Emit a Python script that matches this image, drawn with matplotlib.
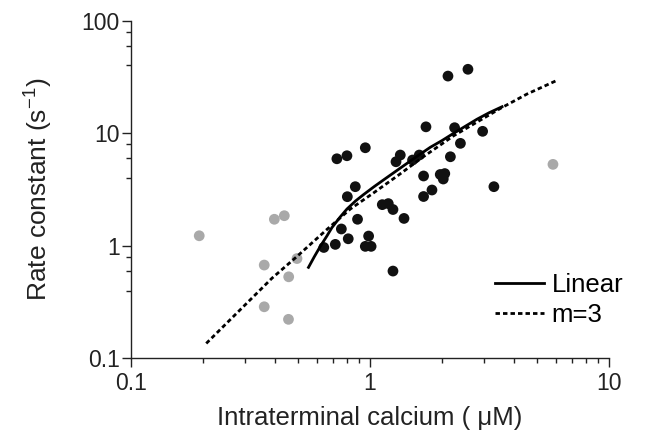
import matplotlib
matplotlib.use("Agg")
import matplotlib.pyplot as plt
from matplotlib.ticker import FixedLocator, LogLocator, NullFormatter

plt.rcParams["font.family"] = ["Liberation Sans", "DejaVu Sans"]

# black points: intraterminal calcium (uM), rate constant (1/s)
ca_black = [2.12, 2.57, 1.715, 2.26, 2.96, 2.39, 0.727, 0.801, 0.956, 1.339,
            1.285, 1.507, 1.608, 2.17, 1.676, 1.968, 2.056, 2.026, 1.817, 1.676,
            3.30, 0.868, 0.804, 1.126, 1.193, 1.248, 1.388, 0.887, 0.759, 0.811,
            0.716, 0.987, 0.956, 1.011, 0.641, 1.248]
k_black = [32.2, 37.0, 11.4, 11.2, 10.4, 8.13, 5.93, 6.31, 7.43, 6.40,
           5.58, 5.78, 6.40, 6.18, 4.17, 4.30, 4.38, 3.92, 3.13, 2.74,
           3.35, 3.35, 2.73, 2.32, 2.37, 2.10, 1.75, 1.72, 1.41, 1.154,
           1.029, 1.22, 0.988, 0.988, 0.966, 0.596]

# grey points
ca_grey = [0.193, 0.398, 0.438, 0.361, 0.457, 0.495, 0.361, 0.456, 5.83]
k_grey = [1.227, 1.72, 1.85, 0.674, 0.530, 0.770, 0.287, 0.222, 5.29]

# fitted curves
ca_linear = [0.553, 0.585, 0.620, 0.660, 0.693, 0.750, 0.801, 0.870, 0.940, 1.040,
             1.140, 1.339, 1.550, 1.788, 2.000, 2.240, 2.500, 2.800, 3.150, 3.570]
k_linear = [0.643, 0.800, 0.990, 1.220, 1.450, 1.800, 2.120, 2.500, 2.850, 3.350,
            3.850, 4.900, 6.100, 7.500, 8.600, 10.00, 11.50, 13.30, 15.20, 17.20]

ca_m3 = [0.2065, 0.389, 0.490, 0.661, 0.827, 1.035, 1.317, 1.676, 2.24, 3.51, 4.54, 6.06]
k_m3 = [0.1356, 0.515, 0.789, 1.399, 2.12, 2.95, 4.25, 6.2, 9.5, 16.6, 22.3, 29.5]

fig = plt.figure(figsize=(6.52, 4.47), dpi=100)
ax = fig.add_axes([0.2009, 0.1984, 0.7331, 0.7553])

ax.scatter(ca_grey, k_grey, s=60, color="#a9a9a9", edgecolors="none", zorder=2)
ax.scatter(ca_black, k_black, s=60, color="#111111", edgecolors="none", zorder=3)
ax.plot(ca_linear, k_linear, color="black", lw=2.0, label="Linear", zorder=4)
ax.plot(ca_m3, k_m3, color="black", lw=2.0, dashes=(1.6, 1.1), label="m=3", zorder=4)

ax.set_xscale("log")
ax.set_yscale("log")
ax.set_xlim(0.1, 10)
ax.set_ylim(0.1, 100)

ax.set_xticks([0.1, 1, 10])
ax.set_xticklabels(["0.1", "1", "10"])
ax.set_yticks([0.1, 1, 10, 100])
ax.set_yticklabels(["0.1", "1", "10", "100"])
ax.xaxis.set_minor_locator(LogLocator(base=10, subs=[2, 3, 4, 5, 6, 7, 8, 9]))
ax.yaxis.set_minor_locator(FixedLocator([0.4, 0.6, 0.8, 4, 6, 8, 40, 60, 80]))
ax.xaxis.set_minor_formatter(NullFormatter())
ax.yaxis.set_minor_formatter(NullFormatter())

for s in ["top", "right"]:
    ax.spines[s].set_visible(False)
for s in ["left", "bottom"]:
    ax.spines[s].set_linewidth(1.0)
    ax.spines[s].set_color("#222222")

ax.tick_params(which="major", length=6.5, width=1.0, colors="#222222", labelsize=16.5, labelcolor="#222222")
ax.tick_params(axis="y", which="major", pad=1.5)
ax.tick_params(axis="x", which="major", pad=3.5)
ax.tick_params(which="minor", length=3.6, width=1.0, colors="#222222")

ax.set_xlabel("Intraterminal calcium ( \u03bcM)", fontsize=18.5, color="#222222", labelpad=8)
ax.set_ylabel("Rate constant (s$^{\\mathregular{-1}}$)", fontsize=19, color="#222222", labelpad=20)

ax.legend(loc="upper left", bbox_to_anchor=(0.7615, 0.252), frameon=False, fontsize=18.5,
          handlelength=1.9, handletextpad=0.3, labelspacing=0.22, borderpad=0, borderaxespad=0)

fig.savefig("out.png", dpi=100)
